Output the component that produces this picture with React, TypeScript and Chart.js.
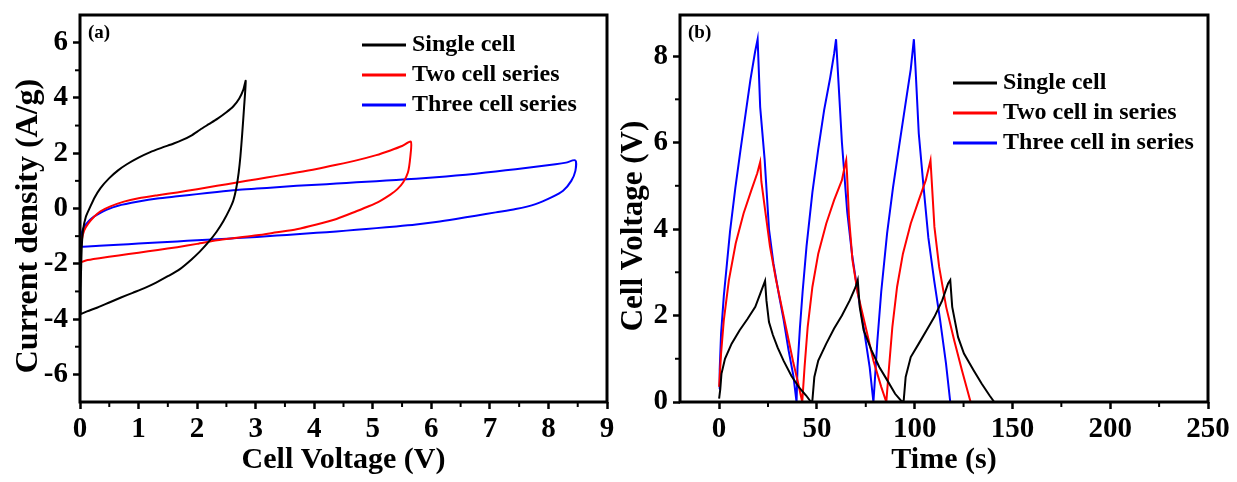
import React, { useEffect, useRef } from "react";
import { Chart, registerables } from "chart.js";

Chart.register(...registerables);

const FONT = "'Liberation Serif', 'Times New Roman', Times, serif";

// ---------- Panel (a): cyclic voltammetry ----------
const cvLabels = ["Single cell", "Two cell series", "Three cell series"];
const seriesColors = ["#000000", "#ff0000", "#0000ff"];

const cvSingleV = [0.01, 0.01, 0.02, 0.03, 0.05, 0.1, 0.17, 0.25, 0.35, 0.5, 0.65, 0.8, 1.0, 1.2, 1.4, 1.6, 1.75, 1.9, 2.05, 2.2, 2.35, 2.5, 2.62, 2.72, 2.79, 2.83, 2.8, 2.77, 2.74, 2.71, 2.67, 2.62, 2.55, 2.45, 2.33, 2.2, 2.05, 1.9, 1.7, 1.5, 1.3, 1.1, 0.9, 0.7, 0.5, 0.3, 0.12, 0.01];
const cvSingleJ = [-3.82, -3.0, -2.1, -1.4, -0.8, -0.3, 0.04, 0.4, 0.74, 1.1, 1.38, 1.6, 1.84, 2.04, 2.2, 2.35, 2.48, 2.64, 2.85, 3.05, 3.25, 3.48, 3.7, 3.98, 4.3, 4.62, 3.6, 2.7, 1.9, 1.3, 0.75, 0.3, -0.05, -0.45, -0.85, -1.2, -1.55, -1.85, -2.2, -2.45, -2.68, -2.88, -3.05, -3.22, -3.4, -3.58, -3.72, -3.82];

const cvTwoV = [0.01, 0.01, 0.03, 0.07, 0.14, 0.24, 0.35, 0.51, 0.75, 1.0, 1.33, 1.66, 2.0, 2.34, 2.68, 3.02, 3.36, 3.7, 4.04, 4.38, 4.72, 5.06, 5.3, 5.5, 5.65, 5.64, 5.6, 5.52, 5.42, 5.3, 5.13, 4.93, 4.72, 4.38, 4.04, 3.7, 3.36, 3.02, 2.68, 2.34, 2.0, 1.66, 1.33, 1.0, 0.66, 0.33, 0.1, 0.01];
const cvTwoJ = [-1.95, -1.6, -1.15, -0.8, -0.55, -0.3, -0.1, 0.07, 0.25, 0.37, 0.48, 0.58, 0.7, 0.82, 0.94, 1.06, 1.18, 1.3, 1.43, 1.58, 1.74, 1.93, 2.1, 2.26, 2.42, 1.85, 1.3, 0.95, 0.7, 0.5, 0.28, 0.08, -0.1, -0.38, -0.58, -0.75, -0.86, -0.97, -1.06, -1.15, -1.28, -1.4, -1.5, -1.6, -1.7, -1.8, -1.88, -1.95];

const cvThreeV = [0.01, 0.02, 0.05, 0.1, 0.2, 0.31, 0.45, 0.65, 1.0, 1.32, 1.66, 2.0, 2.34, 2.68, 3.02, 3.36, 3.7, 4.04, 4.38, 4.72, 5.06, 5.4, 5.74, 6.08, 6.42, 6.76, 7.1, 7.44, 7.78, 8.12, 8.3, 8.46, 8.46, 8.39, 8.25, 8.05, 7.78, 7.44, 7.1, 6.76, 6.42, 6.08, 5.74, 5.4, 5.06, 4.72, 4.38, 4.04, 3.7, 3.36, 3.02, 2.68, 2.34, 2.0, 1.66, 1.32, 1.0, 0.65, 0.33, 0.05, 0.01];
const cvThreeJ = [-1.36, -1.0, -0.75, -0.57, -0.35, -0.2, -0.05, 0.1, 0.25, 0.36, 0.44, 0.52, 0.6, 0.67, 0.72, 0.77, 0.82, 0.86, 0.9, 0.95, 0.99, 1.03, 1.08, 1.13, 1.19, 1.26, 1.34, 1.42, 1.51, 1.6, 1.66, 1.74, 1.36, 1.0, 0.64, 0.4, 0.16, -0.02, -0.14, -0.26, -0.38, -0.49, -0.58, -0.65, -0.71, -0.77, -0.83, -0.88, -0.93, -0.98, -1.03, -1.07, -1.11, -1.15, -1.19, -1.23, -1.27, -1.31, -1.35, -1.38, -1.36];

const aXTicks = [0, 1, 2, 3, 4, 5, 6, 7, 8, 9];
const aXMinor = [0.5, 1.5, 2.5, 3.5, 4.5, 5.5, 6.5, 7.5, 8.5];
const aYTicks = [-6, -4, -2, 0, 2, 4, 6];
const aYMinor = [-5, -3, -1, 1, 3, 5];

// ---------- Panel (b): galvanostatic charge/discharge ----------
const gcdLabels = ["Single cell", "Two cell in series", "Three cell in series"];

const gcdSingleT = [0, 0.6, 1.2, 3.0, 6.4, 10.5, 14.5, 18.5, 21.0, 23.5, 24.2, 25.5, 27.5, 30.0, 33.0, 37.0, 41.0, 44.5, 47.0, 47.7, 48.7, 50.7, 54.8, 58.8, 62.8, 66.8, 69.8, 70.9, 71.9, 73.9, 77.9, 81.9, 86.0, 90.0, 93.6, 94.4, 95.4, 98.0, 102.1, 106.1, 110.1, 114.1, 117.1, 118.2, 119.2, 122.2, 125.2, 130.2, 134.3, 138.3, 140.7];
const gcdSingleV = [0.08, 0.3, 0.65, 1.0, 1.35, 1.66, 1.92, 2.2, 2.5, 2.8, 2.35, 1.85, 1.55, 1.25, 0.95, 0.6, 0.33, 0.15, 0, 0.04, 0.58, 0.96, 1.35, 1.7, 2.0, 2.35, 2.66, 2.82, 2.2, 1.66, 1.2, 0.81, 0.5, 0.19, 0, 0.04, 0.58, 1.04, 1.35, 1.66, 1.97, 2.35, 2.74, 2.82, 2.2, 1.5, 1.12, 0.73, 0.42, 0.15, 0];

const gcdTwoT = [0, 1.0, 2.4, 5.0, 8.5, 12.5, 16.5, 19.5, 21.0, 21.6, 23.5, 26.0, 29.0, 32.0, 35.0, 38.0, 40.6, 42.5, 43.7, 45.3, 47.7, 50.7, 54.8, 58.8, 62.8, 64.2, 65.0, 65.4, 66.4, 68.2, 70.9, 74.9, 78.9, 82.9, 85.5, 86.9, 88.6, 91.0, 94.0, 98.0, 102.1, 105.7, 108.1, 108.7, 110.1, 112.5, 116.1, 120.2, 124.2, 128.6];
const gcdTwoV = [0.35, 1.12, 1.89, 2.82, 3.67, 4.36, 4.9, 5.29, 5.55, 5.1, 4.45, 3.6, 2.85, 2.2, 1.55, 0.9, 0.4, 0, 0.81, 1.74, 2.66, 3.43, 4.13, 4.67, 5.13, 5.44, 5.59, 5.29, 4.28, 3.28, 2.51, 1.74, 0.96, 0.35, 0, 0.81, 1.74, 2.66, 3.43, 4.13, 4.67, 5.13, 5.59, 5.13, 4.05, 3.13, 2.2, 1.43, 0.73, 0];

const gcdThreeT = [0, 0.3, 1.0, 2.4, 4.0, 5.6, 8.3, 11.0, 13.5, 16.0, 18.4, 19.7, 21.0, 23.3, 25.5, 27.8, 30.5, 33.0, 35.5, 38.0, 39.6, 40.1, 41.3, 42.7, 44.7, 47.7, 50.7, 53.7, 56.8, 58.8, 59.8, 60.6, 62.8, 65.5, 68.0, 71.0, 74.0, 77.0, 78.9, 79.5, 80.9, 82.9, 85.9, 88.9, 92.0, 95.0, 98.0, 99.6, 100.4, 102.1, 104.5, 107.0, 110.0, 113.0, 116.0, 118.2];
const gcdThreeV = [0.3, 0.75, 1.58, 2.45, 3.2, 3.95, 4.95, 5.85, 6.65, 7.45, 8.1, 8.39, 6.82, 5.6, 4.0, 3.2, 2.5, 1.9, 1.2, 0.6, 0, 0.81, 1.7, 2.55, 3.6, 4.85, 5.85, 6.75, 7.5, 8.05, 8.39, 7.75, 6.0, 4.4, 3.4, 2.5, 1.7, 0.8, 0, 0.4, 1.4, 2.55, 3.9, 4.95, 5.9, 6.8, 7.7, 8.39, 7.75, 6.21, 5.0, 3.8, 2.8, 1.9, 0.9, 0];

const bXTicks = [0, 50, 100, 150, 200, 250];
const bXMinor = [25, 75, 125, 175, 225];
const bYTicks = [0, 2, 4, 6, 8];
const bYMinor = [1, 3, 5, 7];

// ---------- helpers ----------
const zip = (xs: number[], ys: number[]) => xs.map((x, i) => ({ x, y: ys[i] }));

const decorPlugin = {
  id: "decor",
  afterDatasetsDraw(chart: any, _args: any, opts: any) {
    const { ctx, chartArea: ca, scales } = chart;
    ctx.save();
    ctx.strokeStyle = "#000";
    ctx.lineWidth = 2;
    for (const v of opts.xMinor) {
      const px = scales.x.getPixelForValue(v);
      ctx.beginPath();
      ctx.moveTo(px, ca.bottom);
      ctx.lineTo(px, ca.bottom + 5);
      ctx.stroke();
    }
    for (const v of opts.yMinor) {
      const py = scales.y.getPixelForValue(v);
      ctx.beginPath();
      ctx.moveTo(ca.left, py);
      ctx.lineTo(ca.left - 5, py);
      ctx.stroke();
    }
    ctx.lineWidth = 3;
    ctx.strokeRect(ca.left, ca.top, ca.right - ca.left, ca.bottom - ca.top);

    ctx.fillStyle = "#000";
    ctx.textAlign = "left";
    ctx.textBaseline = "middle";
    ctx.font = `bold 19px ${FONT}`;
    ctx.fillText(opts.tag, ca.left + 8, ca.top + 18);

    // y-axis title
    ctx.save();
    ctx.translate(opts.yTitleX, opts.yTitleY);
    ctx.rotate(-Math.PI / 2);
    ctx.textAlign = "center";
    ctx.font = `bold ${opts.yTitleSize}px ${FONT}`;
    ctx.fillText(opts.yTitle, 0, 0);
    ctx.restore();

    ctx.font = `bold 24px ${FONT}`;
    chart.data.datasets.forEach((ds: any, i: number) => {
      const y = opts.legendY + i * opts.legendGap;
      ctx.strokeStyle = ds.borderColor;
      ctx.lineWidth = 3;
      ctx.beginPath();
      ctx.moveTo(opts.legendX, y);
      ctx.lineTo(opts.legendX + 44, y);
      ctx.stroke();
      ctx.fillText(ds.label, opts.legendX + 50, y);
    });
    ctx.restore();
  },
};

function axis(
  min: number,
  max: number,
  ticks: number[],
  title: string | null,
  isX: boolean,
  fitSize: number,
  labelPad: number
) {
  return {
    type: "linear",
    min,
    max,
    afterBuildTicks: (s: any) => {
      s.ticks = ticks.map((v) => ({ value: v }));
    },
    afterFit: (s: any) => {
      if (isX) s.height = fitSize;
      else s.width = fitSize;
      s.paddingTop = 0;
      s.paddingBottom = 0;
      s.paddingLeft = 0;
      s.paddingRight = 0;
    },
    grid: {
      display: true,
      drawOnChartArea: false,
      drawTicks: true,
      tickLength: 7,
      tickWidth: 2.5,
      tickColor: "#000",
    },
    border: { display: false },
    ticks: {
      color: "#000",
      autoSkip: false,
      maxRotation: 0,
      padding: labelPad,
      font: { family: FONT, size: 29, weight: "bold" },
    },
    title: {
      display: !!title,
      text: title || "",
      color: "#000",
      padding: { top: 0, bottom: 7 },
      font: { family: FONT, size: 30, weight: "bold", lineHeight: 1 },
    },
  };
}

function makeDatasets(labels: string[], series: { x: number; y: number }[][], tension: number) {
  return series.map((data, i) => ({
    label: labels[i],
    data,
    showLine: true,
    borderColor: seriesColors[i],
    backgroundColor: seriesColors[i],
    borderWidth: 2,
    pointRadius: 0,
    tension,
    fill: false,
  }));
}

export default function App() {
  const refA = useRef<HTMLCanvasElement>(null);
  const refB = useRef<HTMLCanvasElement>(null);

  useEffect(() => {
    const chartA = new Chart(refA.current as HTMLCanvasElement, {
      type: "scatter",
      data: {
        datasets: makeDatasets(
          cvLabels,
          [zip(cvSingleV, cvSingleJ), zip(cvTwoV, cvTwoJ), zip(cvThreeV, cvThreeJ)],
          0.25
        ),
      },
      options: {
        responsive: false,
        animation: false,
        events: [],
        layout: { padding: { left: 0, top: 15, right: 11, bottom: 0 } },
        scales: {
          x: axis(0, 9, aXTicks, "Cell Voltage (V)", true, 80, 3),
          y: axis(-7, 7, aYTicks, null, false, 80, 5),
        },
        plugins: {
          legend: { display: false },
          tooltip: { enabled: false },
          decor: {
            tag: "(a)",
            xMinor: aXMinor,
            yMinor: aYMinor,
            legendX: 362,
            legendY: 45,
            legendGap: 30,
            yTitle: "Current density (A/g)",
            yTitleX: 29,
            yTitleY: 226,
            yTitleSize: 32,
          },
        },
      } as any,
      plugins: [decorPlugin],
    });

    const chartB = new Chart(refB.current as HTMLCanvasElement, {
      type: "scatter",
      data: {
        datasets: makeDatasets(
          gcdLabels,
          [zip(gcdSingleT, gcdSingleV), zip(gcdTwoT, gcdTwoV), zip(gcdThreeT, gcdThreeV)],
          0
        ),
      },
      options: {
        responsive: false,
        animation: false,
        events: [],
        layout: { padding: { left: 0, top: 15, right: 29, bottom: 0 } },
        scales: {
          x: axis(-20, 250, bXTicks, "Time (s)", true, 80, 3),
          y: axis(0, 8.95, bYTicks, null, false, 62, 5),
        },
        plugins: {
          legend: { display: false },
          tooltip: { enabled: false },
          decor: {
            tag: "(b)",
            xMinor: bXMinor,
            yMinor: bYMinor,
            legendX: 335,
            legendY: 83,
            legendGap: 30,
            yTitle: "Cell Voltage (V)",
            yTitleX: 16,
            yTitleY: 226,
            yTitleSize: 31,
          },
        },
      } as any,
      plugins: [decorPlugin],
    });

    return () => {
      chartA.destroy();
      chartB.destroy();
    };
  }, []);

  return (
    <div style={{ position: "absolute", left: 0, top: 0, width: 1237, height: 482, background: "#fff" }}>
      <canvas ref={refA} width={618} height={482} style={{ position: "absolute", left: 0, top: 0, width: 618, height: 482 }} />
      <canvas ref={refB} width={619} height={482} style={{ position: "absolute", left: 618, top: 0, width: 619, height: 482 }} />
    </div>
  );
}
